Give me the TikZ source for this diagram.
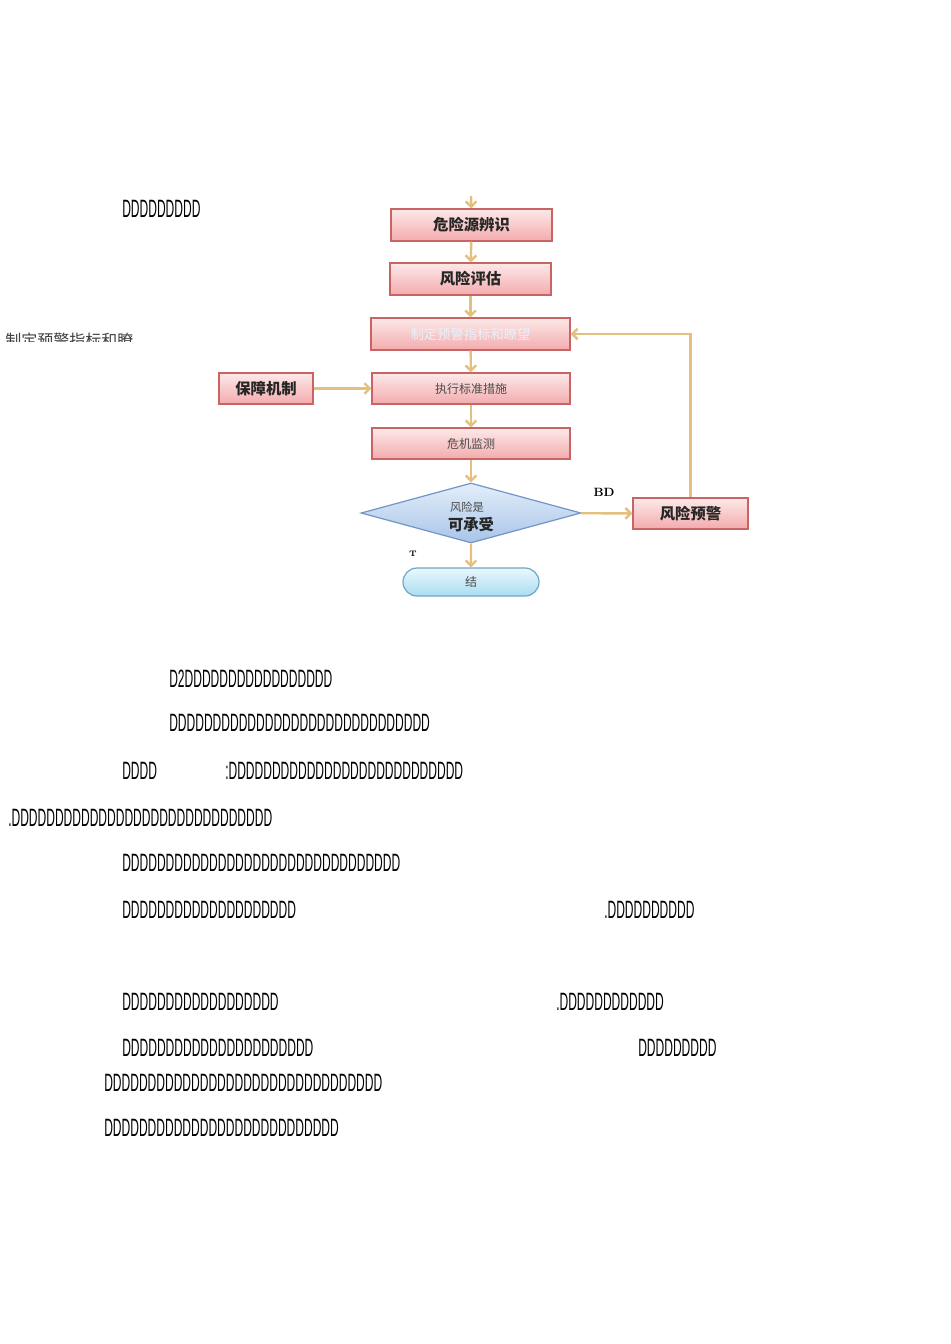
\documentclass[tikz,border=0pt]{standalone}
\usepackage{fontspec}
\newfontfamily\cjk{Noto Sans CJK SC}
\newfontfamily\dfont[FakeStretch=0.48]{Liberation Sans}
\usetikzlibrary{arrows.meta,shapes.geometric,shapes.misc}

\definecolor{arrowtan}{HTML}{E3C07E}
\definecolor{boxline}{HTML}{C86464}
\definecolor{boxtop}{HTML}{FDE9E9}
\definecolor{boxbot}{HTML}{F3ABAD}
\definecolor{dialine}{HTML}{7493C8}
\definecolor{diatop}{HTML}{E3EEFA}
\definecolor{diabot}{HTML}{A8C4E8}
\definecolor{endline}{HTML}{6FA6C8}
\definecolor{endtop}{HTML}{EAF8FC}
\definecolor{endbot}{HTML}{A9DDF0}

\begin{document}
\begin{tikzpicture}[x=0.75pt,y=-0.75pt,
	riskbox/.style={draw=boxline,line width=0.9pt,top color=boxtop,bottom color=boxbot,inner sep=0pt,
		font=\cjk\bfseries\fontsize{11.5}{12}\selectfont,text=black!85},
	thinbox/.style={riskbox,font=\cjk\fontsize{9}{10}\selectfont,text=black!70},
	flow/.style={draw=arrowtan,line width=1.8pt,-{Straight Barb[length=4pt,width=8pt]}},
	dline/.style={anchor=base west,inner sep=0pt,font=\dfont\fontsize{18.8}{20}\selectfont}]
	%%%%% PAGE %%%%%
	\useasboundingbox[fill=white] (0,0) rectangle (950,1344);
	
	%%%%% FLOW CHART %%%%%
	\node[riskbox,minimum width=120.75pt,minimum height=24pt] (ident) at (471.5,225) {危险源辨识};
	\node[riskbox,minimum width=120.75pt,minimum height=24pt] (assess) at (470.5,279) {风险评估};
	\node[thinbox,minimum width=149.25pt,minimum height=24pt,font=\cjk\fontsize{10}{11}\selectfont,text=diatop!80!white] (plan) at (470.5,334) {制定预警指标和瞭望};
	\node[thinbox,minimum width=148.5pt,minimum height=23.25pt] (exec) at (471,388.5) {执行标准措施};
	\node[thinbox,minimum width=148.5pt,minimum height=23.25pt] (monitor) at (471,443.5) {危机监测};
	\node[riskbox,minimum width=70.5pt,minimum height=23.25pt] (guard) at (266,388.5) {保障机制};
	\node[riskbox,minimum width=86.25pt,minimum height=23.25pt] (warn) at (690.5,513.5) {风险预警};
	
	\node[diamond,draw=dialine,line width=0.9pt,top color=diatop,bottom color=diabot,inner sep=0pt,
		minimum width=165pt,minimum height=45pt] (judge) at (471,513) {};
	\node[font=\cjk\fontsize{8.5}{9}\selectfont,text=black!70,inner sep=0pt] (judgetop) at (467,507) {风险是};
	\node[font=\cjk\bfseries\fontsize{11.5}{12}\selectfont,text=black!85,inner sep=0pt] (judgebot) at (471,525) {可承受};
	
	\node[rounded rectangle,draw=endline,line width=0.9pt,top color=endtop,bottom color=endbot,inner sep=0pt,
		minimum width=102pt,minimum height=21pt,font=\cjk\fontsize{9}{10}\selectfont,text=black!70] (finish) at (471,582) {结};
	
	\node[font=\bfseries\fontsize{9}{10}\selectfont,inner sep=0pt] (nolabel) at (604,492) {BD};
	\node[font=\bfseries\fontsize{6}{7}\selectfont,inner sep=0pt] (yeslabel) at (413,554) {T};
	
	\coordinate (start) at (471,196);
	\draw[flow] (start) -- (ident);
	\draw[flow] (ident) -- (assess);
	\draw[flow] (assess) -- (plan);
	\draw[flow] (plan) -- (exec);
	\draw[flow] (exec) -- (monitor);
	\draw[flow] (monitor) -- (judge);
	\draw[flow] (judge) -- (finish);
	\draw[flow] (guard) -- (exec);
	\draw[flow] (judge) -- (warn);
	\draw[flow] (warn) |- (plan);
	
	%%%%% CUT LABEL %%%%%
	\begin{scope}
		\clip (0,320) rectangle (150,341);
		\node[anchor=west,inner sep=0pt,font=\cjk\fontsize{12}{13}\selectfont,text=black!75] (cutlabel) at (5,340) {制定预警指标和瞭};
	\end{scope}
	
	%%%%% TEXT LINES %%%%%
	\node[dline] (l1) at (122,218) {DDDDDDDDD};
	\node[dline] (l2) at (169,687) {D2DDDDDDDDDDDDDDDDD};
	\node[dline] (l3) at (169,731) {DDDDDDDDDDDDDDDDDDDDDDDDDDDDDD};
	\node[dline] (l4a) at (122,779) {DDDD};
	\node[dline] (l4b) at (225,779) {:DDDDDDDDDDDDDDDDDDDDDDDDDDD};
	\node[dline] (l5) at (8,826) {.DDDDDDDDDDDDDDDDDDDDDDDDDDDDDD};
	\node[dline] (l6) at (122,871) {DDDDDDDDDDDDDDDDDDDDDDDDDDDDDDDD};
	\node[dline] (l7a) at (122,918) {DDDDDDDDDDDDDDDDDDDD};
	\node[dline] (l7b) at (604,918) {.DDDDDDDDDD};
	\node[dline] (l8a) at (122,1010) {DDDDDDDDDDDDDDDDDD};
	\node[dline] (l8b) at (556,1010) {.DDDDDDDDDDDD};
	\node[dline] (l9a) at (122,1056) {DDDDDDDDDDDDDDDDDDDDDD};
	\node[dline] (l9b) at (638,1056) {DDDDDDDDD};
	\node[dline] (l10) at (104,1091) {DDDDDDDDDDDDDDDDDDDDDDDDDDDDDDDD};
	\node[dline] (l11) at (104,1136) {DDDDDDDDDDDDDDDDDDDDDDDDDDD};
\end{tikzpicture}
\end{document}
